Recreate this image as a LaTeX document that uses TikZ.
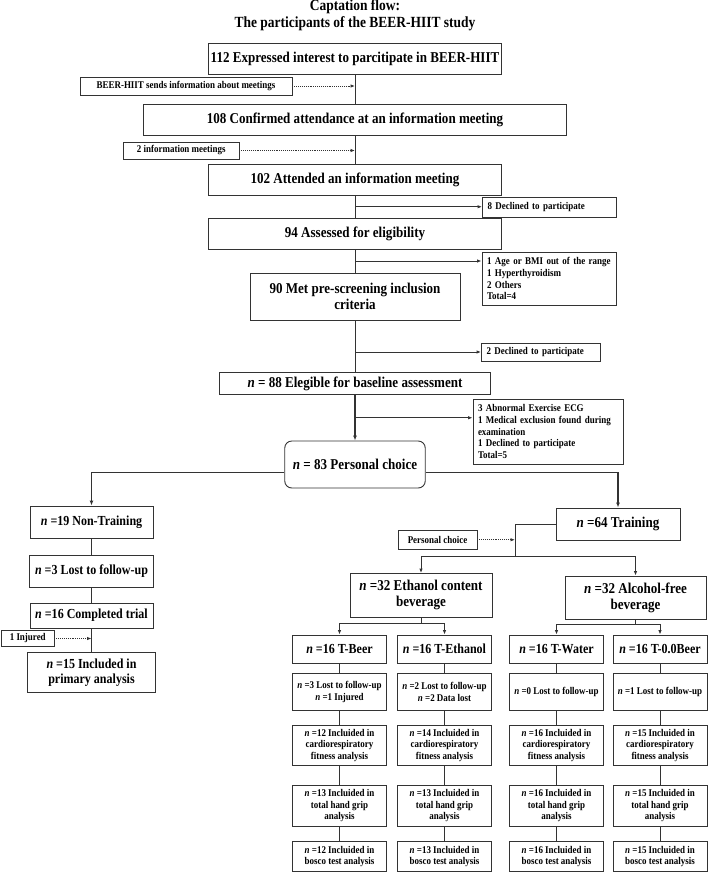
\documentclass[tikz,border=0pt]{standalone}
\usepackage{fontspec}
\setmainfont{Liberation Serif}[FakeStretch=0.87]
\usetikzlibrary{arrows.meta,calc,positioning}

\tikzset{
    box/.style={draw=black!80, line width=0.9pt, inner sep=2pt, align=center,
        font=\fontsize{15}{16}\selectfont\bfseries},
    midbox/.style={box, font=\fontsize{13.8}{15}\selectfont\bfseries},
    smallbox/.style={box, font=\fontsize{10.3}{11.7}\selectfont\bfseries},
    notebox/.style={smallbox, align=left, inner xsep=5pt},
    groupbox/.style={midbox, minimum width=94pt, minimum height=28.5pt},
    link/.style={draw=black!80, line width=0.9pt},
    linkarrow/.style={link, -{Latex[length=4.5pt,width=3.5pt]}},
    dotarrow/.style={link, densely dotted, -{Latex[length=4.5pt,width=3.5pt]}},
    thickarrow/.style={link, line width=1.6pt, -{Latex[length=5pt,width=4pt]}}
}

\begin{document}
\begin{tikzpicture}[x=1pt, y=-1pt]
    \useasboundingbox (0,0) rectangle (709,873);

    % Title
    \node[font=\fontsize{15.5}{17}\selectfont\bfseries, align=center] (title) at (355,15.5)
        {Captation flow:\\The participants of the BEER-HIIT study};

    % Recruitment trunk
    \node[box, minimum width=293.5pt, minimum height=30.5pt] (a) at (355,58.75) {112 Expressed interest to parcitipate in BEER-HIIT};
    \node[smallbox, minimum width=212pt, minimum height=18pt] (s1) at (186,86) {BEER-HIIT sends information about meetings};
    \node[box, minimum width=423pt, minimum height=31pt] (b) at (355,120) {108 Confirmed attendance at an information meeting};
    \node[smallbox, minimum width=115.5pt, minimum height=17pt] (s2) at (181.25,150.5) {2 information meetings};
    \node[box, minimum width=293.5pt, minimum height=30.5pt] (c) at (355,179.75) {102 Attended an information meeting};
    \node[box, minimum width=293pt, minimum height=30.5pt] (d) at (355,233.75) {94 Assessed for eligibility};
    \node[box, minimum width=210pt, minimum height=47.5pt] (e) at (355,296.75) {90 Met pre-screening inclusion\\criteria};
    \node[box, minimum width=271pt, minimum height=22pt] (f) at (355,383.5) {\textit{n} = 88 Elegible for baseline assessment};
    \node[box, rounded corners=7pt, minimum width=140.5pt, minimum height=47pt] (g) at (355,464.5) {\textit{n} = 83 Personal choice};

    % Exclusions
    \node[notebox, text width=123.5pt, minimum height=20pt] (e1) at (549.25,207) {8 Declined to participate};
    \node[notebox, text width=124pt, minimum height=53.5pt] (e2) at (549,278.75)
        {1 Age or BMI out of the range\\1 Hyperthyroidism\\2 Others\\Total=4};
    \node[notebox, text width=109pt, minimum height=18pt] (e3) at (541,352) {2 Declined to participate};
    \node[notebox, text width=140.5pt, minimum height=65pt] (e4) at (548.25,431.5)
        {3 Abnormal Exercise ECG\\1 Medical exclusion found during\\examination\\1 Declined to participate\\Total=5};

    % Non-training arm
    \node[midbox, minimum width=123pt, minimum height=32pt] (h) at (91.5,522) {\textit{n} =19 Non-Training};
    \node[midbox, minimum width=124pt, minimum height=32pt] (l1) at (91.5,571.5) {\textit{n} =3 Lost to follow-up};
    \node[midbox, minimum width=123pt, minimum height=25pt] (l2) at (91.5,615.5) {\textit{n} =16 Completed trial};
    \node[smallbox, minimum width=52.5pt, minimum height=16pt] (inj) at (27.75,638.5) {1 Injured};
    \node[midbox, minimum width=127.5pt, minimum height=39.5pt] (l3) at (91.5,672.25) {\textit{n} =15 Included in\\primary analysis};

    % Training arm
    \node[box, minimum width=124pt, minimum height=32pt] (i) at (618,524) {\textit{n} =64 Training};
    \node[smallbox, minimum width=79pt, minimum height=18.5pt] (pc) at (437.5,539.75) {Personal choice};
    \coordinate (sp) at (515,556);
    \node[box, minimum width=142pt, minimum height=43.5pt] (eth) at (421,595.25) {\textit{n} =32 Ethanol content\\beverage};
    \node[box, minimum width=141pt, minimum height=43pt] (alc) at (635.5,597.5) {\textit{n} =32 Alcohol-free\\beverage};

    % Groups
    \node[groupbox] (tb1) at (339.5,649.25) {\textit{n} =16 T-Beer};
    \node[groupbox] (te1) at (444.5,649.25) {\textit{n} =16 T-Ethanol};
    \node[groupbox] (tw1) at (556.5,649.25) {\textit{n} =16 T-Water};
    \node[groupbox] (tz1) at (660,649.25) {\textit{n} =16 T-0.0Beer};

    \node[smallbox, minimum width=94pt, minimum height=36.5pt] (tb2) at (339.5,691.75) {\textit{n} =3 Lost to follow-up\\\textit{n} =1 Injured};
    \node[smallbox, minimum width=94pt, minimum height=36.5pt] (te2) at (444.5,691.75) {\textit{n} =2 Lost to follow-up\\\textit{n} =2 Data lost};
    \node[smallbox, minimum width=94pt, minimum height=36.5pt] (tw2) at (556.5,691.75) {\textit{n} =0 Lost to follow-up};
    \node[smallbox, minimum width=94pt, minimum height=36.5pt] (tz2) at (660,691.75) {\textit{n} =1 Lost to follow-up};

    \foreach \col/\xx/\ncard/\ngrip/\nbos in {tb/339.5/12/13/12, te/444.5/14/13/13, tw/556.5/16/16/16, tz/660/15/15/15} {
        \node[smallbox, minimum width=94pt, minimum height=39.5pt] (\col3) at (\xx,745.25)
            {\textit{n} =\ncard{} Incluided in\\cardiorespiratory\\fitness analysis};
        \node[smallbox, minimum width=94pt, minimum height=40.5pt] (\col4) at (\xx,805.75)
            {\textit{n} =\ngrip{} Incluided in\\total hand grip\\analysis};
        \node[smallbox, minimum width=94pt, minimum height=30pt] (\col5) at (\xx,856.5)
            {\textit{n} =\nbos{} Incluided in\\bosco test analysis};
    }

    % Connectors: trunk
    \draw[link] (a) -- (b);
    \draw[link] (b) -- (c);
    \draw[link] (c) -- (d);
    \draw[link] (d) -- (e);
    \draw[link] (e) -- (f);
    \draw[thickarrow] (f) -- (g);
    \draw[dotarrow] (s1) -- (s1 -| a);
    \draw[dotarrow] (s2) -- (s2 -| b);

    % Connectors: exclusions
    \coordinate (m1) at ($(c.south)!.5!(d.north)$);
    \coordinate (m2) at ($(d.south)!.5!(e.north)$);
    \coordinate (m4) at ($(f.south)!.5!(g.north)$);
    \draw[linkarrow] (m1) -- (m1 -| e1.west);
    \draw[linkarrow] (m2) -- (m2 -| e2.west);
    \draw[linkarrow] (e3.west -| e) -- (e3.west);
    \draw[linkarrow] (m4) -- (m4 -| e4.west);

    % Connectors: arms
    \draw[thickarrow] ([yshift=-8pt]g.west) -| (h);
    \draw[thickarrow] ([yshift=-8pt]g.east) -| (i);
    \draw[link] (h) -- (l1);
    \draw[link] (l1) -- (l2);
    \draw[link] (l2) -- (l3);
    \draw[dotarrow] (inj) -- (inj -| l2);

    \draw[link] (i.west) -| (sp);
    \draw[linkarrow] (sp) -| (eth);
    \draw[linkarrow] (sp) -| (alc);
    \draw[dotarrow] (pc) -- (pc -| sp);

    \draw[link] (eth.south) -- ++(0,6) coordinate (ethsp);
    \draw[linkarrow] (ethsp) -| (tb1);
    \draw[linkarrow] (ethsp) -| (te1);
    \draw[link] (alc.south) -- ++(0,5) coordinate (alcsp);
    \draw[linkarrow] (alcsp) -| (tw1);
    \draw[linkarrow] (alcsp) -| (tz1);

    \foreach \col in {tb,te,tw,tz} {
        \draw[link] (\col1) -- (\col2);
        \draw[link] (\col2) -- (\col3);
        \draw[link] (\col3) -- (\col4);
        \draw[link] (\col4) -- (\col5);
    }
\end{tikzpicture}
\end{document}
